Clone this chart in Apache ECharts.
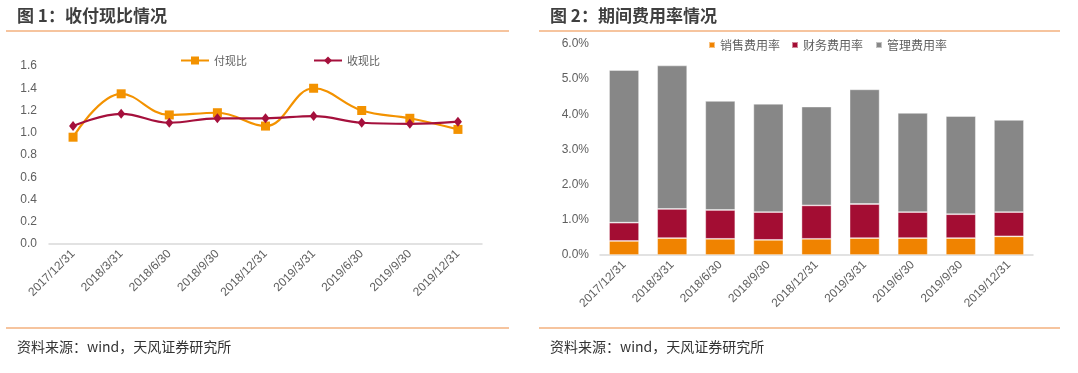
<!DOCTYPE html>
<html>
<head>
<meta charset="utf-8">
<script src="https://cdn.jsdelivr.net/npm/echarts@6/dist/echarts.min.js"></script>
<style>
html,body{margin:0;padding:0;background:#fff;}
#c{width:1078px;height:373px;}
</style>
</head>
<body>
<div id="c"></div>
<script>
// ---- data ----
const categories = ['2017/12/31','2018/3/31','2018/6/30','2018/9/30','2018/12/31','2019/3/31','2019/6/30','2019/9/30','2019/12/31'];
const payRatio = [0.96,1.35,1.16,1.18,1.06,1.40,1.20,1.13,1.03];      // 付现比
const collectRatio = [1.06,1.17,1.09,1.13,1.13,1.15,1.09,1.08,1.10];  // 收现比
const salesRate = [0.40,0.48,0.46,0.43,0.46,0.48,0.48,0.48,0.53];     // 销售费用率 (%)
const financeRate = [0.52,0.83,0.82,0.79,0.95,0.97,0.74,0.68,0.69];   // 财务费用率 (%)
const adminRate = [4.34,4.08,3.10,3.08,2.81,3.26,2.82,2.79,2.62];     // 管理费用率 (%)
const leftTicks = {min:0, max:1.6, interval:0.2};
const rightTicks = {min:0, max:6, interval:1};
const title1 = '图 1：收付现比情况';
const title2 = '图 2：期间费用率情况';
const source = '资料来源：wind，天风证券研究所';

// ---- styles ----
const cjk = '"Noto Sans CJK SC","Noto Sans",sans-serif';
const latin = '"Liberation Sans",Arial,"Noto Sans CJK SC",sans-serif';
const lblColor = '#5f5f5f';
const sepColor = '#ED8A3F';

const chart = echarts.init(document.getElementById('c'), null, {renderer:'canvas'});
const titleStyle = {fontFamily:cjk, fontSize:17, fontWeight:'bold', color:'#3f3f3f', lineHeight:24};
const srcStyle = {fontFamily:cjk, fontSize:14, fontWeight:'normal', color:'#333', lineHeight:20};

const xAxisCommon = {
  type:'category', data:categories, boundaryGap:true,
  axisTick:{show:false},
  axisLine:{lineStyle:{color:'#D9D9D9', width:1.5}},
  axisLabel:{rotate:45, fontSize:12, color:lblColor, fontFamily:latin, margin:8, interval:0}
};

chart.setOption({
  animation:false,
  backgroundColor:'#fff',
  title:[
    {text:title1, left:17, top:4, textStyle:titleStyle, padding:0},
    {text:title2, left:550, top:4, textStyle:titleStyle, padding:0},
    {text:source, left:17, top:337, textStyle:srcStyle, padding:0},
    {text:source, left:550, top:337, textStyle:srcStyle, padding:0}
  ],
  graphic:[
    {type:'line', shape:{x1:6,y1:31,x2:509,y2:31}, style:{stroke:sepColor, lineWidth:1.2}, silent:true},
    {type:'line', shape:{x1:539,y1:31,x2:1060,y2:31}, style:{stroke:sepColor, lineWidth:1.2}, silent:true},
    {type:'line', shape:{x1:6,y1:328,x2:509,y2:328}, style:{stroke:sepColor, lineWidth:1.2}, silent:true},
    {type:'line', shape:{x1:539,y1:328,x2:1060,y2:328}, style:{stroke:sepColor, lineWidth:1.2}, silent:true}
  ],
  legend:[
    {data:['付现比'], left:180, top:55, itemWidth:28, itemHeight:10, itemGap:0, padding:0,
     textStyle:{fontSize:11, color:lblColor, fontFamily:cjk}},
    {data:['收现比'], left:313, top:55, itemWidth:28, itemHeight:10, itemGap:0, padding:0,
     textStyle:{fontSize:11, color:lblColor, fontFamily:cjk}},
    {data:['销售费用率'], left:708, top:39, icon:'rect', itemWidth:6, itemHeight:6, padding:0,
     textStyle:{fontSize:12, color:lblColor, fontFamily:cjk}},
    {data:['财务费用率'], left:791, top:39, icon:'rect', itemWidth:6, itemHeight:6, padding:0,
     textStyle:{fontSize:12, color:lblColor, fontFamily:cjk}},
    {data:['管理费用率'], left:875, top:39, icon:'rect', itemWidth:6, itemHeight:6, padding:0,
     textStyle:{fontSize:12, color:lblColor, fontFamily:cjk}}
  ],
  grid:[
    {left:49, right:596, top:66, bottom:129, containLabel:false},
    {left:600, right:45, top:44, bottom:118, containLabel:false}
  ],
  xAxis:[
    Object.assign({gridIndex:0}, xAxisCommon),
    Object.assign({gridIndex:1}, xAxisCommon)
  ],
  yAxis:[
    {gridIndex:0, type:'value', min:leftTicks.min, max:leftTicks.max, interval:leftTicks.interval,
     splitLine:{show:false}, axisLine:{show:false}, axisTick:{show:false},
     axisLabel:{fontSize:12, color:lblColor, fontFamily:latin, margin:12, formatter:v=>v.toFixed(1)}},
    {gridIndex:1, type:'value', min:rightTicks.min, max:rightTicks.max, interval:rightTicks.interval,
     splitLine:{show:false}, axisLine:{show:false}, axisTick:{show:false},
     axisLabel:{fontSize:12, color:lblColor, fontFamily:latin, margin:11, formatter:v=>v.toFixed(1)+'%'}}
  ],
  series:[
    {name:'付现比', type:'line', xAxisIndex:0, yAxisIndex:0, data:payRatio, smooth:0.4,
     symbol:'rect', symbolSize:9, itemStyle:{color:'#F39200'}, lineStyle:{color:'#F39200', width:2.2}},
    {name:'收现比', type:'line', xAxisIndex:0, yAxisIndex:0, data:collectRatio, smooth:0.4,
     symbol:'diamond', symbolSize:[8,10], itemStyle:{color:'#A5103C'}, lineStyle:{color:'#A5103C', width:2.2}},
    {name:'销售费用率', type:'bar', xAxisIndex:1, yAxisIndex:1, stack:'fee', data:salesRate, barWidth:30,
     itemStyle:{color:'#F08300', borderColor:'rgba(255,255,255,0.5)', borderWidth:0.8}},
    {name:'财务费用率', type:'bar', xAxisIndex:1, yAxisIndex:1, stack:'fee', data:financeRate, barWidth:30,
     itemStyle:{color:'#A30D33', borderColor:'rgba(255,255,255,0.5)', borderWidth:0.8}},
    {name:'管理费用率', type:'bar', xAxisIndex:1, yAxisIndex:1, stack:'fee', data:adminRate, barWidth:30,
     itemStyle:{color:'#878787', borderColor:'rgba(255,255,255,0.5)', borderWidth:0.8}}
  ]
});
</script>
</body>
</html>
